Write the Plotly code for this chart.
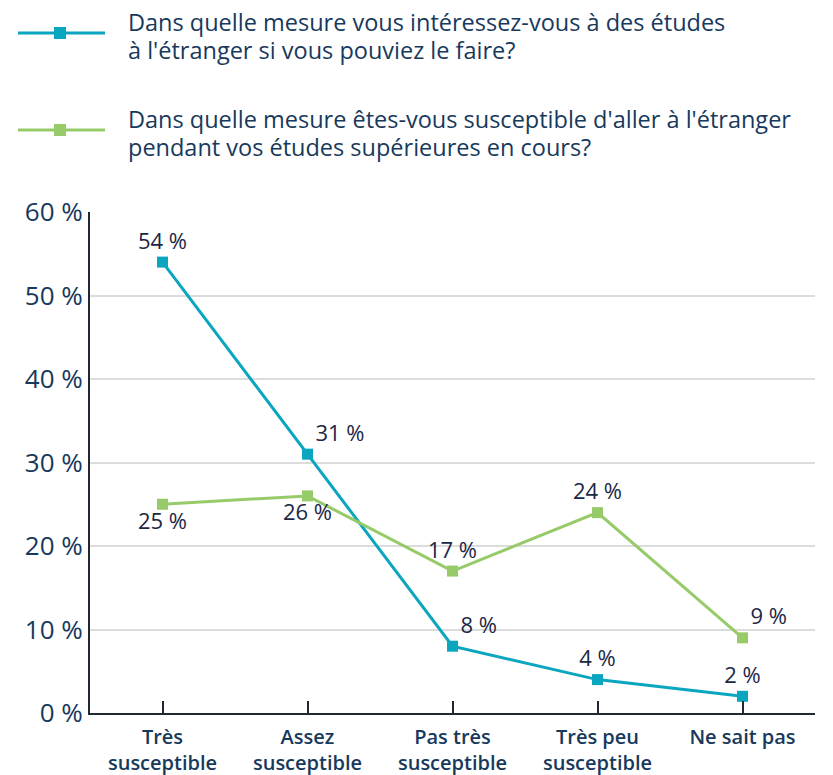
import plotly.graph_objects as go

categories = ["Très<br>susceptible", "Assez<br>susceptible", "Pas très<br>susceptible",
              "Très peu<br>susceptible", "Ne sait pas"]
interest = [54, 31, 8, 4, 2]
likely = [25, 26, 17, 24, 9]
series_names = [
    "Dans quelle mesure vous intéressez-vous à des études<br>à l'étranger si vous pouviez le faire?",
    "Dans quelle mesure êtes-vous susceptible d'aller à l'étranger<br>pendant vos études supérieures en cours?",
]
interest_pos = ["top center", "top right", "top right", "top center", "top center"]
likely_pos = ["bottom center", "bottom center", "top center", "top center", "top right"]

BLUE = "#0aa5bf"
GREEN = "#97cb69"
NAVY = "#17395c"
LABEL = "#1c2745"
FONT = "Open Sans, Lato, sans-serif"

fig = go.Figure()
fig.add_trace(go.Scatter(
    x=categories, y=interest, mode="lines+markers+text",
    line=dict(color=BLUE, width=3), marker=dict(symbol="square", size=11, color=BLUE),
    text=[f"{v} %" for v in interest], textposition=interest_pos,
    textfont=dict(size=22, color=LABEL, family=FONT), showlegend=False, cliponaxis=False,
))
fig.add_trace(go.Scatter(
    x=categories, y=likely, mode="lines+markers+text",
    line=dict(color=GREEN, width=3), marker=dict(symbol="square", size=11, color=GREEN),
    text=[f"{v} %" for v in likely], textposition=likely_pos,
    textfont=dict(size=22, color=LABEL, family=FONT), showlegend=False, cliponaxis=False,
))

# custom legend (paper coordinates; plot area spans x 90..815, y 212..713 px on the page)
legend_y = [33, 130]
colors = [BLUE, GREEN]
line_offsets = [-11, 17]  # page-px offset of each text line's centre from the sample line
for name, yy, c in zip(series_names, legend_y, colors):
    fy = (713 - yy) / 501
    fig.add_shape(type="line", xref="paper", yref="paper",
                  x0=(18 - 90) / 725, x1=(105 - 90) / 725, y0=fy, y1=fy,
                  line=dict(color=c, width=3))
    fig.add_shape(type="rect", xref="paper", yref="paper",
                  x0=(54 - 90) / 725, x1=(66 - 90) / 725,
                  y0=(713 - yy - 6) / 501, y1=(713 - yy + 6) / 501,
                  line=dict(width=0), fillcolor=c)
    for part, off in zip(name.split("<br>"), line_offsets):
        fig.add_annotation(text=part, xref="paper", yref="paper",
                           x=(127 - 90) / 725, y=(713 - (yy + off)) / 501,
                           xanchor="left", yanchor="middle", align="left", showarrow=False,
                           borderpad=0, font=dict(size=23.5, color=NAVY, family=FONT))

# page body has an 8px margin: figure is 825x767 so the plot lands at the reference pixels
fig.update_layout(
    width=825, height=767,
    margin=dict(l=82, r=18, t=204, b=62, autoexpand=False),
    paper_bgcolor="white", plot_bgcolor="white",
    font=dict(family=FONT, color=NAVY),
    xaxis=dict(range=[-0.5, 4.5], showline=True, linecolor="#222831", linewidth=2,
               ticks="inside", ticklen=12, tickcolor="#222831", tickwidth=1.5,
               tickfont=dict(size=20, color=NAVY, family=FONT, weight=600), showgrid=False,
               automargin=False, ticklabelstandoff=5),
    yaxis=dict(range=[0, 60], dtick=10, ticksuffix=" %", showline=True, linecolor="#222831",
               linewidth=2, gridcolor="#dcdcdc", gridwidth=2, automargin=False,
               tickfont=dict(size=26, color=NAVY, family=FONT, weight=500), ticks="",
               zeroline=False),
)
fig.write_html("out.html")
